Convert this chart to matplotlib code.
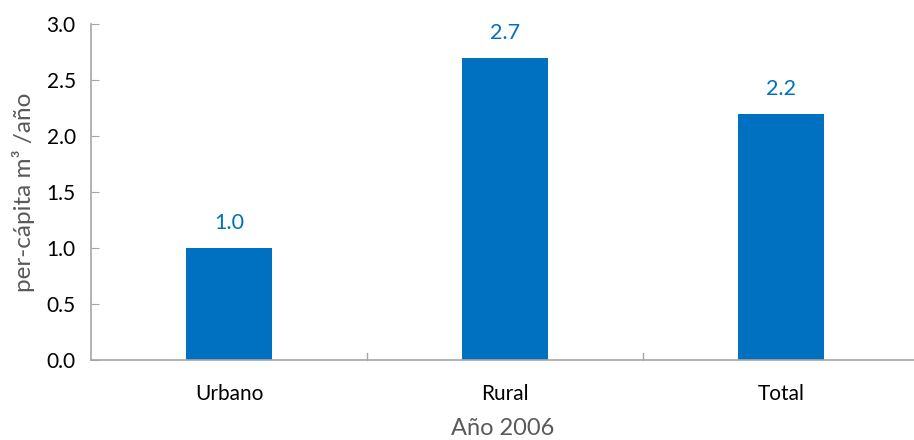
import matplotlib
matplotlib.use("Agg")
import matplotlib.pyplot as plt

categories = ["Urbano", "Rural", "Total"]
values = [1.0, 2.7, 2.2]
yticks = [0.0, 0.5, 1.0, 1.5, 2.0, 2.5, 3.0]

plt.rcParams['font.family'] = ['Lato', 'DejaVu Sans']

W, H = 914, 440
fig = plt.figure(figsize=(W / 100, H / 100), dpi=100)
ax = fig.add_axes([91 / W, (H - 360) / H, (W - 91) / W, (360 - 24) / H])

bar_color = "#0070C0"
x = list(range(len(categories)))
ax.bar(x, values, width=0.31, color=bar_color, zorder=2)

for xi, v in zip(x, values):
    ax.annotate(f"{v:.1f}", (xi, v), xytext=(0, 18), textcoords="offset points",
                ha="center", va="center", color=bar_color, fontsize=15.5)

ax.set_xlim(-0.5, 2.5 - 5 / 276.3)
ax.set_ylim(0, 3.0)
ax.set_yticks(yticks)
ax.set_yticklabels([f"{t:.1f}" for t in yticks], fontsize=15, color="#000000")

ax.set_xticks(x)
ax.set_xticklabels(categories, fontsize=15, color="#000000")
ax.tick_params(axis="x", length=0, pad=17)
ax.tick_params(axis="y", length=6, direction="in", color="#A6A6A6", pad=11)
# boundary ticks between categories on the x axis
for b in [0.5, 1.5]:
    ax.plot([b, b], [0, 0.06], color="#A6A6A6", lw=1, clip_on=False, zorder=3)

for side in ["top", "right"]:
    ax.spines[side].set_visible(False)
for side in ["left", "bottom"]:
    ax.spines[side].set_color("#A6A6A6")
    ax.spines[side].set_linewidth(1.2)

ax.set_ylabel("per-cápita m³ /año", fontsize=17.5, color="#595959", labelpad=8)
ax.set_xlabel("Año 2006", fontsize=17, color="#595959", labelpad=10)

fig.savefig("out.png", dpi=100)
